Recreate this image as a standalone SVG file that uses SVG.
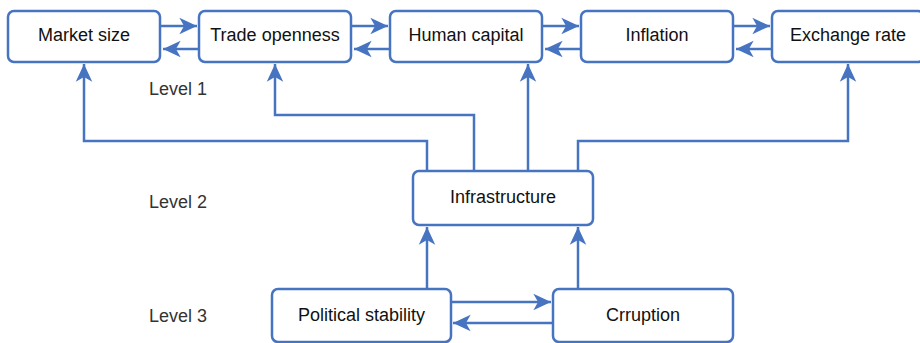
<svg xmlns="http://www.w3.org/2000/svg" width="920" height="343" viewBox="0 0 920 343">
<style>
.box{fill:#fff;stroke:#4674c1;stroke-width:2.5}
.lbl{font-family:"Liberation Sans",Arial,sans-serif;font-size:18px;fill:#111;text-anchor:middle}
.lvl{font-family:"Liberation Sans",Arial,sans-serif;font-size:18px;fill:#333}
.c{fill:none;stroke:#4674c1;stroke-width:2.5;marker-end:url(#ah)}
</style>
<defs>
<marker id="ah" markerUnits="userSpaceOnUse" markerWidth="20" markerHeight="20" viewBox="-16 -8 17 16" refX="0" refY="0" orient="auto">
<path d="M0,0 L-15,-7 L-11,0 L-15,7 Z" fill="#4674c1"/>
</marker>
</defs>
<rect width="920" height="343" fill="#fff"/>
<g id="connectors">
<path class="c" d="M161,26 H197"/>
<path class="c" d="M352,26 H388"/>
<path class="c" d="M543,26 H579"/>
<path class="c" d="M734,26 H770"/>
<path class="c" d="M199,49 H163"/>
<path class="c" d="M390,49 H354"/>
<path class="c" d="M581,49 H545"/>
<path class="c" d="M772,49 H736"/>
<path class="c" d="M427,171 V141 H84 V64"/>
<path class="c" d="M474,171 V115 H275 V64"/>
<path class="c" d="M528,171 V64"/>
<path class="c" d="M578,171 V141 H848 V64"/>
<path class="c" d="M427,289 V227"/>
<path class="c" d="M578,289 V227"/>
<path class="c" d="M451,302 H551"/>
<path class="c" d="M553,323 H453"/>
</g>
<g id="market-size"><rect class="box" x="8" y="11" width="152" height="51" rx="6"/><text class="lbl" x="84" y="41">Market size</text></g>
<g id="trade-openness"><rect class="box" x="199" y="11" width="152" height="51" rx="6"/><text class="lbl" x="275" y="41">Trade openness</text></g>
<g id="human-capital"><rect class="box" x="390" y="11" width="152" height="51" rx="6"/><text class="lbl" x="466" y="41">Human capital</text></g>
<g id="inflation"><rect class="box" x="581" y="11" width="152" height="51" rx="6"/><text class="lbl" x="657" y="41">Inflation</text></g>
<g id="exchange-rate"><rect class="box" x="772" y="11" width="152" height="51" rx="6"/><text class="lbl" x="848" y="41">Exchange rate</text></g>
<g id="infrastructure"><rect class="box" x="413" y="171" width="180" height="54" rx="6"/><text class="lbl" x="503" y="203">Infrastructure</text></g>
<g id="political-stability"><rect class="box" x="272" y="289" width="179" height="53" rx="6"/><text class="lbl" x="361.5" y="321">Political stability</text></g>
<g id="crruption"><rect class="box" x="553" y="289" width="180" height="53" rx="6"/><text class="lbl" x="643" y="321">Crruption</text></g>
<g id="levels">
<text class="lvl" x="149" y="95">Level 1</text>
<text class="lvl" x="149" y="208">Level 2</text>
<text class="lvl" x="149" y="322">Level 3</text>
</g>
</svg>
